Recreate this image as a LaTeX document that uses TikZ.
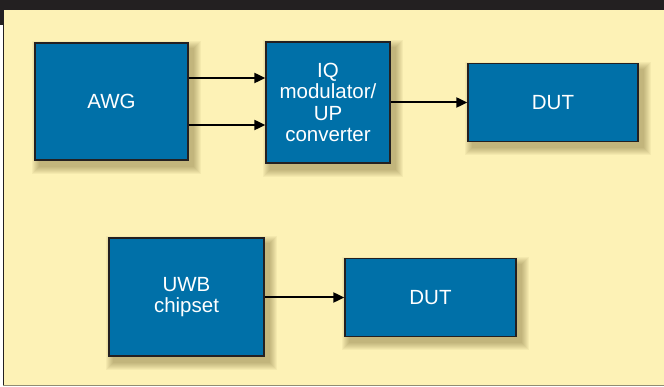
\documentclass[tikz,border=0pt]{standalone}
\usepackage{fontspec}
\setmainfont{Liberation Sans}
\usetikzlibrary{calc,arrows.meta}
\definecolor{bgyellow}{RGB}{253,242,182}
\definecolor{boxblue}{RGB}{0,112,168}
\definecolor{edgegray}{RGB}{35,32,33}
\definecolor{shadowbrown}{RGB}{90,75,20}
\pgfdeclarelayer{bglayer}
\pgfdeclarelayer{shadowlayer}
\pgfsetlayers{bglayer,shadowlayer,main}
\tikzset{
  blk/.style={draw=edgegray, line width=1.3pt, fill=boxblue, text=white,
    align=center, inner sep=0pt,
    font=\fontsize{20.5}{21.5}\selectfont},
  arr/.style={line width=2pt, draw=black, -{Triangle[length=11pt,width=10pt]}},
  shadowpiece/.style={fill=shadowbrown, fill opacity=0.05, draw=none}
}
\newcommand{\mkshadow}[1]{%
  \foreach \r in {0,...,7}{%
    \fill[shadowpiece] ($(#1.north west)+(5-\r,6-\r)$) rectangle ($(#1.south east)+(5+\r,6+\r)$);
  }}
\begin{document}
\begin{tikzpicture}[x=1pt,y=-1pt]
\useasboundingbox (0,0) rectangle (664,387);
% background
\begin{pgfonlayer}{bglayer}
\fill[white] (0,0) rectangle (664,387);
\fill[bgyellow] (3,10) rectangle (664,386);
\fill[edgegray] (0,0) rectangle (664,10);
\fill[edgegray] (0,10) rectangle (3,25);
\draw[edgegray, line width=1.2pt] (3.6,10) -- (3.6,386);
\draw[black!40!bgyellow!70!gray, line width=1.2pt] (3,385.5) -- (664,385.5);
\end{pgfonlayer}
% boxes
\node[blk, minimum width=153, minimum height=117] (awg) at (111.5,101.5) {AWG};
\node[blk, minimum width=124, minimum height=121] (iq) at (328,102.5) {IQ\\modulator/\\UP\\converter};
\node[blk, minimum width=170, minimum height=78] (dut1) at (553,102.5) {DUT};
\node[blk, minimum width=155, minimum height=118] (uwb) at (186.5,297) {UWB\\chipset};
\node[blk, minimum width=171, minimum height=78] (dut2) at (430.5,297.5) {DUT};
\begin{pgfonlayer}{shadowlayer}
\mkshadow{awg}\mkshadow{iq}\mkshadow{dut1}\mkshadow{uwb}\mkshadow{dut2}
\end{pgfonlayer}
% connectors
\draw[arr] (awg.east |- 0,78) -- (iq.west |- 0,78);
\draw[arr] (awg.east |- 0,125) -- (iq.west |- 0,125);
\draw[arr] (iq) -- (dut1);
\draw[arr] (uwb.east |- dut2) -- (dut2);
\end{tikzpicture}
\end{document}
